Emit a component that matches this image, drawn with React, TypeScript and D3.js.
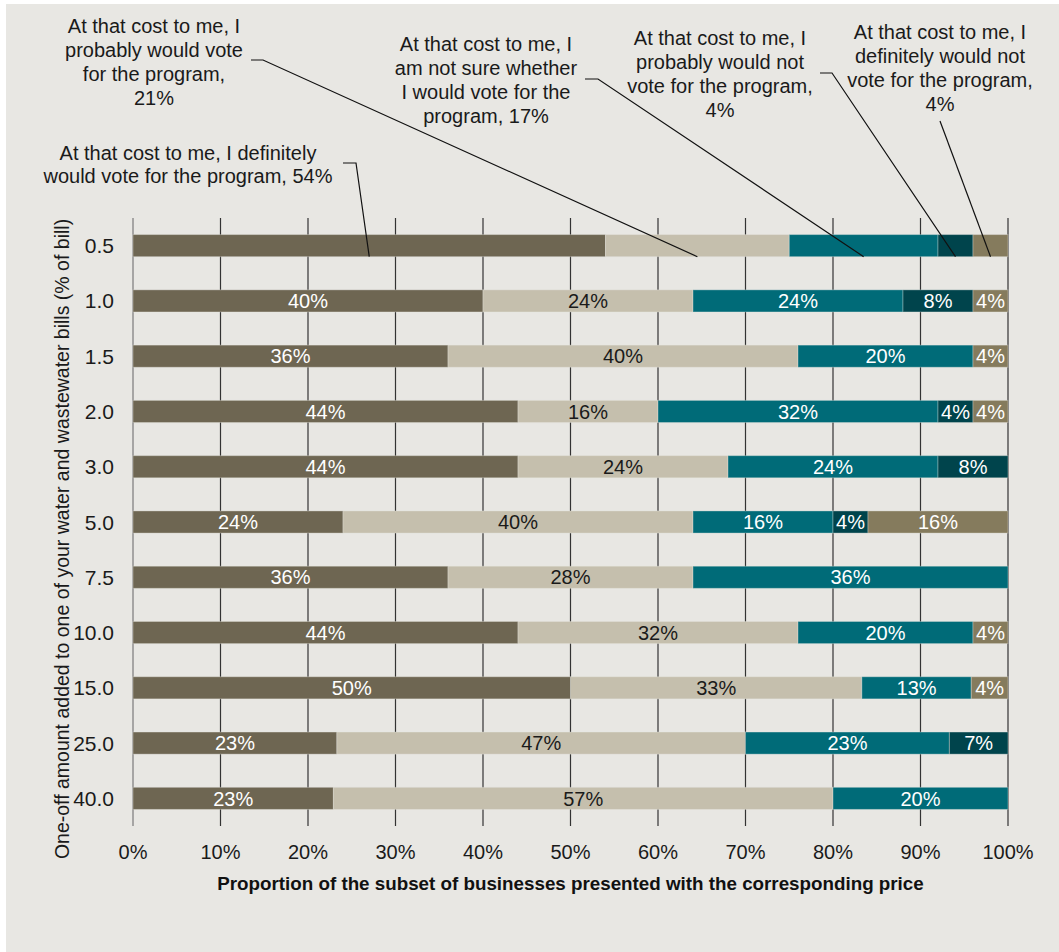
import React from "react";
import * as d3 from "d3";

const categories = ["0.5", "1.0", "1.5", "2.0", "3.0", "5.0", "7.5", "10.0", "15.0", "25.0", "40.0"];
const seriesNames = [
  "At that cost to me, I definitely would vote for the program",
  "At that cost to me, I probably would vote for the program",
  "At that cost to me, I am not sure whether I would vote for the program",
  "At that cost to me, I probably would not vote for the program",
  "At that cost to me, I definitely would not vote for the program",
];
const definitelyYes = [54, 40, 36, 44, 44, 24, 36, 44, 50, 23.3, 22.9];
const probablyYes = [21, 24, 40, 16, 24, 40, 28, 32, 33.3, 46.7, 57.1];
const notSure = [17, 24, 20, 32, 24, 16, 36, 20, 12.5, 23.3, 20];
const probablyNot = [4, 8, 0, 4, 8, 4, 0, 0, 0, 6.7, 0];
const definitelyNot = [4, 4, 4, 4, 0, 16, 0, 4, 4.2, 0, 0];
const xTicks = [0, 10, 20, 30, 40, 50, 60, 70, 80, 90, 100];

const series = [definitelyYes, probablyYes, notSure, probablyNot, definitelyNot];
const colors = ["#6e6652", "#c5bfad", "#006b78", "#00444c", "#857b5d"];
const labelColors = ["#ffffff", "#1a1a1a", "#ffffff", "#ffffff", "#ffffff"];

// annotation text for the first row
const annoLines = [
  ["At that cost to me, I definitely", "would vote for the program, 54%"],
  ["At that cost to me, I", "probably would vote", "for the program,", "21%"],
  ["At that cost to me, I", "am not sure whether", "I would vote for the", "program, 17%"],
  ["At that cost to me, I", "probably would not", "vote for the program,", "4%"],
  ["At that cost to me, I", "definitely would not", "vote for the program,", "4%"],
];

const FONT = "'Liberation Sans', Arial, sans-serif";

export default function App() {
  const W = 1059, H = 952;
  const x = d3.scaleLinear().domain([0, 100]).range([133, 1008]);
  const y = d3.scaleBand().domain(categories).range([218, 826]).paddingInner(0.6).paddingOuter(0.3);
  const bh = y.bandwidth();

  const rows = categories.map((c, i) => {
    let acc = 0;
    return series.map((s, k) => {
      const v = s[i];
      const seg = { k, x0: acc, x1: acc + v, v, cat: c, i };
      acc += v;
      return seg;
    });
  });

  const first = rows[0];
  const barBottom = (y(categories[0]) as number) + bh;
  const mid = (k: number) => x((first[k].x0 + first[k].x1) / 2);

  const annos = [
    { cx: 188, base: 160, step: 23, lead: [[343, 163], [356, 163]] },
    { cx: 154, base: 33, step: 24, lead: [[251, 60], [263, 60]] },
    { cx: 486, base: 51, step: 24, lead: [[585, 79], [598, 79]] },
    { cx: 720, base: 45, step: 24, lead: [[820, 73], [832, 73]] },
    { cx: 940, base: 39, step: 24, lead: [[940, 121]] },
  ];

  return (
    <svg width={W} height={H} style={{ position: "absolute", left: 0, top: 0, fontFamily: FONT }}>
      <rect x={0} y={0} width={W} height={H} fill="#ffffff" />
      <rect x={6} y={4} width={W - 6} height={H - 4} fill="#e8e7e3" />
      {/* gridlines */}
      {xTicks.map((t) => (
        <line key={t} x1={x(t)} x2={x(t)} y1={218} y2={826} stroke={t === 0 ? "#7a7a7a" : "#333333"} strokeWidth={1.2} />
      ))}
      {/* bars */}
      {rows.map((row, i) => (
        <g key={i}>
          {row.filter((s) => s.v > 0).map((s) => (
            <rect key={s.k} x={x(s.x0)} y={y(s.cat)} width={x(s.x1) - x(s.x0)} height={bh} fill={colors[s.k]}
              stroke="#e8e7e3" strokeOpacity={0.35} strokeWidth={1} />
          ))}
          {i > 0 && row.filter((s) => s.v > 0).map((s) => (
            <text key={"t" + s.k} x={(x(s.x0) + x(s.x1)) / 2} y={(y(s.cat) as number) + bh / 2} dy="0.36em"
              textAnchor="middle" fontSize={20} fill={labelColors[s.k]}>{Math.round(s.v) + "%"}</text>
          ))}
          <text x={114} y={(y(categories[i]) as number) + bh / 2} dy="0.36em" textAnchor="end" fontSize={21} fill="#1a1a1a">{categories[i]}</text>
        </g>
      ))}
      {/* annotations */}
      {annos.map((a, k) => {
        const pts = [...a.lead, [mid(k), barBottom]] as [number, number][];
        return (
          <g key={k}>
            <path d={d3.line()(pts) as string} fill="none" stroke="#111" strokeWidth={1.2} />
            {annoLines[k].map((l, j) => (
              <text key={j} x={a.cx} y={a.base + j * a.step} textAnchor="middle" fontSize={20} fill="#1a1a1a">{l}</text>
            ))}
          </g>
        );
      })}
      {/* x tick labels */}
      {xTicks.map((t) => (
        <text key={"xt" + t} x={x(t)} y={859} textAnchor="middle" fontSize={20} fill="#1a1a1a">{t + "%"}</text>
      ))}
      <text x={(x(0) + x(100)) / 2} y={890} textAnchor="middle" fontSize={18.8} fontWeight="bold" fill="#111">
        Proportion of the subset of businesses presented with the corresponding price
      </text>
      <text transform="translate(69,539) rotate(-90)" textAnchor="middle" fontSize={19.5} fill="#1a1a1a">
        One-off amount added to one of your water and wastewater bills (% of bill)
      </text>
    </svg>
  );
}
